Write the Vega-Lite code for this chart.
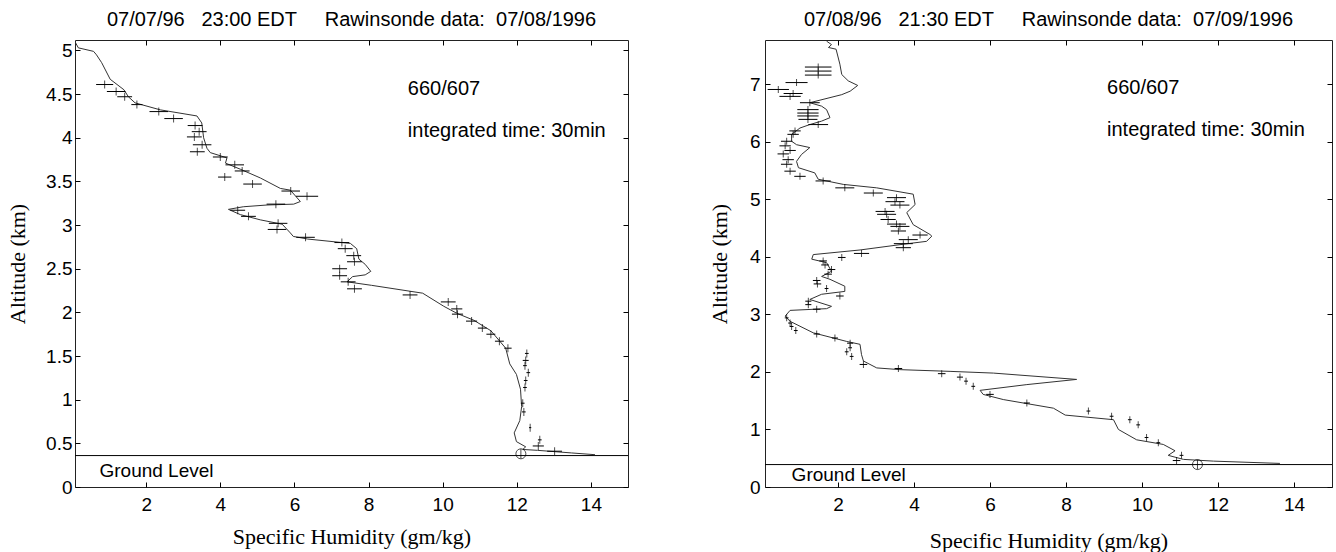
{
  "$schema": "https://vega.github.io/schema/vega-lite/v6.json",
  "background": "white",
  "padding": {"left": 6, "top": 9, "right": 0, "bottom": 0},
  "config": {
    "view": {"stroke": "#222", "strokeWidth": 1},
    "axis": {"grid": false},
    "title": {"font": "Liberation Sans", "fontSize": 20, "fontWeight": "normal", "color": "black"}
  },
  "datasets": {
    "sonde1": [
      {"q":0.08,"alt":5.10},{"q":0.17,"alt":5.03},{"q":0.58,"alt":4.99},{"q":0.66,"alt":4.95},{"q":0.80,"alt":4.86},
      {"q":1.03,"alt":4.67},{"q":1.40,"alt":4.55},{"q":1.52,"alt":4.47},{"q":1.70,"alt":4.40},{"q":2.38,"alt":4.32},
      {"q":3.37,"alt":4.25},{"q":3.50,"alt":4.17},{"q":3.55,"alt":4.00},{"q":3.64,"alt":3.88},{"q":3.73,"alt":3.83},
      {"q":4.18,"alt":3.77},{"q":4.14,"alt":3.71},{"q":4.54,"alt":3.64},{"q":5.08,"alt":3.54},{"q":5.62,"alt":3.42},
      {"q":5.89,"alt":3.40},{"q":6.16,"alt":3.27},{"q":5.98,"alt":3.24},{"q":5.26,"alt":3.23},{"q":4.62,"alt":3.21},
      {"q":4.22,"alt":3.18},{"q":4.54,"alt":3.12},{"q":5.08,"alt":3.06},{"q":5.67,"alt":3.01},{"q":5.89,"alt":2.91},
      {"q":5.97,"alt":2.87},{"q":6.36,"alt":2.84},{"q":7.51,"alt":2.79},{"q":7.68,"alt":2.73},{"q":7.74,"alt":2.61},
      {"q":7.91,"alt":2.55},{"q":8.06,"alt":2.47},{"q":7.91,"alt":2.43},{"q":7.57,"alt":2.41},{"q":7.42,"alt":2.35},
      {"q":8.08,"alt":2.31},{"q":9.46,"alt":2.22},{"q":10.03,"alt":2.07},{"q":10.38,"alt":1.99},{"q":10.84,"alt":1.91},
      {"q":11.30,"alt":1.79},{"q":11.70,"alt":1.59},{"q":11.81,"alt":1.41},{"q":11.99,"alt":1.29},{"q":12.10,"alt":1.12},
      {"q":12.13,"alt":0.92},{"q":12.08,"alt":0.76},{"q":11.93,"alt":0.62},{"q":11.99,"alt":0.52},{"q":12.24,"alt":0.46},
      {"q":12.16,"alt":0.43},{"q":12.56,"alt":0.42},{"q":13.48,"alt":0.39},{"q":14.11,"alt":0.37}
    ],
    "lidar1": [
      {"q":0.88,"alt":4.61,"e":0.23},{"q":1.19,"alt":4.53,"e":0.25},{"q":1.42,"alt":4.47,"e":0.2},{"q":1.75,"alt":4.38,"e":0.15},
      {"q":2.34,"alt":4.30,"e":0.25},{"q":2.74,"alt":4.22,"e":0.25},{"q":3.32,"alt":4.14,"e":0.2},{"q":3.43,"alt":4.07,"e":0.2},
      {"q":3.30,"alt":4.01,"e":0.2},{"q":3.51,"alt":3.92,"e":0.25},{"q":3.38,"alt":3.84,"e":0.2},{"q":4.00,"alt":3.78,"e":0.2},
      {"q":4.39,"alt":3.69,"e":0.25},{"q":4.59,"alt":3.62,"e":0.2},{"q":4.12,"alt":3.55,"e":0.18},{"q":4.87,"alt":3.47,"e":0.25},
      {"q":5.90,"alt":3.39,"e":0.25},{"q":6.34,"alt":3.33,"e":0.3},{"q":5.50,"alt":3.24,"e":0.25},{"q":4.47,"alt":3.17,"e":0.2},
      {"q":4.76,"alt":3.10,"e":0.2},{"q":5.56,"alt":3.02,"e":0.25},{"q":5.53,"alt":2.95,"e":0.25},{"q":6.30,"alt":2.86,"e":0.25},
      {"q":7.28,"alt":2.80,"e":0.2},{"q":7.37,"alt":2.73,"e":0.2},{"q":7.60,"alt":2.65,"e":0.2},{"q":7.62,"alt":2.58,"e":0.2},
      {"q":7.22,"alt":2.50,"e":0.2},{"q":7.22,"alt":2.42,"e":0.2},{"q":7.45,"alt":2.35,"e":0.2},{"q":7.62,"alt":2.27,"e":0.2},
      {"q":9.12,"alt":2.20,"e":0.2},{"q":10.15,"alt":2.12,"e":0.2},{"q":10.38,"alt":2.04,"e":0.15},{"q":10.40,"alt":1.98,"e":0.15},
      {"q":10.78,"alt":1.90,"e":0.15},{"q":11.07,"alt":1.82,"e":0.12},{"q":11.30,"alt":1.75,"e":0.12},{"q":11.53,"alt":1.67,"e":0.12},
      {"q":11.76,"alt":1.59,"e":0.1},{"q":12.27,"alt":1.53,"e":0.05},{"q":12.24,"alt":1.45,"e":0.08},{"q":12.22,"alt":1.39,"e":0.05},
      {"q":12.31,"alt":1.31,"e":0.05},{"q":12.24,"alt":1.22,"e":0.05},{"q":12.22,"alt":1.14,"e":0.05},{"q":12.16,"alt":0.96,"e":0.05},
      {"q":12.19,"alt":0.86,"e":0.05},{"q":12.36,"alt":0.68,"e":0.03},{"q":12.62,"alt":0.54,"e":0.05},{"q":12.58,"alt":0.47,"e":0.15},
      {"q":13.02,"alt":0.41,"e":0.2}
    ],
    "sonde2": [
      {"q":1.70,"alt":7.75},{"q":1.83,"alt":7.69},{"q":1.75,"alt":7.64},{"q":1.95,"alt":7.61},{"q":2.05,"alt":7.35},
      {"q":2.10,"alt":7.17},{"q":2.27,"alt":7.06},{"q":2.52,"alt":6.98},{"q":2.32,"alt":6.88},{"q":2.10,"alt":6.82},
      {"q":1.26,"alt":6.68},{"q":1.57,"alt":6.62},{"q":1.70,"alt":6.56},{"q":1.79,"alt":6.42},{"q":1.57,"alt":6.36},
      {"q":1.26,"alt":6.30},{"q":1.00,"alt":6.24},{"q":0.78,"alt":6.13},{"q":0.78,"alt":6.01},{"q":0.91,"alt":5.95},
      {"q":1.26,"alt":5.90},{"q":1.04,"alt":5.78},{"q":0.91,"alt":5.66},{"q":0.96,"alt":5.55},{"q":1.39,"alt":5.46},
      {"q":1.48,"alt":5.35},{"q":2.14,"alt":5.26},{"q":3.02,"alt":5.20},{"q":3.98,"alt":5.09},{"q":4.03,"alt":4.91},
      {"q":3.81,"alt":4.77},{"q":3.98,"alt":4.56},{"q":4.42,"alt":4.39},{"q":4.47,"alt":4.36},{"q":4.33,"alt":4.27},
      {"q":3.72,"alt":4.22},{"q":2.58,"alt":4.12},{"q":1.35,"alt":4.04},{"q":1.31,"alt":3.96},{"q":1.70,"alt":3.90},
      {"q":1.83,"alt":3.75},{"q":1.57,"alt":3.66},{"q":1.79,"alt":3.61},{"q":2.18,"alt":3.49},{"q":2.18,"alt":3.40},
      {"q":1.57,"alt":3.35},{"q":1.26,"alt":3.26},{"q":1.83,"alt":3.14},{"q":1.70,"alt":3.10},{"q":0.74,"alt":3.07},
      {"q":0.61,"alt":2.97},{"q":0.74,"alt":2.88},{"q":1.35,"alt":2.68},{"q":2.23,"alt":2.53},{"q":2.58,"alt":2.48},
      {"q":2.62,"alt":2.30},{"q":2.67,"alt":2.19},{"q":3.02,"alt":2.07},{"q":3.63,"alt":2.04},{"q":4.95,"alt":2.01},
      {"q":6.09,"alt":1.98},{"q":8.28,"alt":1.87},{"q":6.97,"alt":1.78},{"q":5.74,"alt":1.68},{"q":5.82,"alt":1.61},
      {"q":6.35,"alt":1.52},{"q":7.67,"alt":1.37},{"q":7.98,"alt":1.25},{"q":9.25,"alt":1.17},{"q":9.38,"alt":1.00},
      {"q":9.86,"alt":0.82},{"q":10.56,"alt":0.74},{"q":10.87,"alt":0.63},{"q":10.69,"alt":0.55},{"q":11.09,"alt":0.48},
      {"q":11.88,"alt":0.45},{"q":13.63,"alt":0.41}
    ],
    "lidar2": [
      {"q":1.48,"alt":7.30,"e":0.35},{"q":1.48,"alt":7.23,"e":0.35},{"q":1.48,"alt":7.16,"e":0.35},{"q":0.91,"alt":7.03,"e":0.29},
      {"q":0.43,"alt":6.91,"e":0.28},{"q":0.82,"alt":6.84,"e":0.25},{"q":0.74,"alt":6.79,"e":0.28},{"q":1.26,"alt":6.68,"e":0.26},
      {"q":1.21,"alt":6.56,"e":0.28},{"q":1.21,"alt":6.50,"e":0.28},{"q":1.21,"alt":6.45,"e":0.28},{"q":1.21,"alt":6.39,"e":0.25},
      {"q":1.48,"alt":6.30,"e":0.26},{"q":0.87,"alt":6.19,"e":0.15},{"q":0.82,"alt":6.13,"e":0.15},{"q":0.65,"alt":6.01,"e":0.15},
      {"q":0.61,"alt":5.93,"e":0.15},{"q":0.74,"alt":5.85,"e":0.15},{"q":0.56,"alt":5.79,"e":0.15},{"q":0.69,"alt":5.69,"e":0.15},
      {"q":0.65,"alt":5.61,"e":0.15},{"q":0.74,"alt":5.49,"e":0.15},{"q":1.00,"alt":5.40,"e":0.15},{"q":1.61,"alt":5.32,"e":0.2},
      {"q":2.18,"alt":5.20,"e":0.25},{"q":2.93,"alt":5.11,"e":0.25},{"q":3.54,"alt":5.03,"e":0.25},{"q":3.50,"alt":4.96,"e":0.25},
      {"q":3.63,"alt":4.90,"e":0.25},{"q":3.24,"alt":4.79,"e":0.25},{"q":3.28,"alt":4.74,"e":0.25},{"q":3.32,"alt":4.65,"e":0.2},
      {"q":3.54,"alt":4.57,"e":0.25},{"q":3.63,"alt":4.53,"e":0.25},{"q":3.59,"alt":4.45,"e":0.2},{"q":4.16,"alt":4.38,"e":0.2},
      {"q":3.85,"alt":4.30,"e":0.25},{"q":3.72,"alt":4.23,"e":0.25},{"q":3.72,"alt":4.16,"e":0.2},{"q":2.62,"alt":4.06,"e":0.2},
      {"q":2.10,"alt":3.99,"e":0.1},{"q":1.61,"alt":3.93,"e":0.1},{"q":1.66,"alt":3.86,"e":0.1},{"q":1.83,"alt":3.78,"e":0.1},
      {"q":1.74,"alt":3.70,"e":0.1},{"q":1.44,"alt":3.59,"e":0.1},{"q":1.46,"alt":3.53,"e":0.1},{"q":1.70,"alt":3.45,"e":0.05},
      {"q":2.05,"alt":3.32,"e":0.1},{"q":1.22,"alt":3.23,"e":0.08},{"q":1.22,"alt":3.17,"e":0.08},{"q":1.44,"alt":3.09,"e":0.1},
      {"q":0.65,"alt":2.94,"e":0.05},{"q":0.74,"alt":2.85,"e":0.05},{"q":0.78,"alt":2.79,"e":0.05},{"q":0.89,"alt":2.72,"e":0.05},
      {"q":1.44,"alt":2.66,"e":0.08},{"q":1.92,"alt":2.59,"e":0.08},{"q":2.32,"alt":2.50,"e":0.08},{"q":2.32,"alt":2.42,"e":0.05},
      {"q":2.23,"alt":2.35,"e":0.05},{"q":2.36,"alt":2.27,"e":0.05},{"q":2.67,"alt":2.13,"e":0.1},{"q":3.59,"alt":2.06,"e":0.1},
      {"q":4.73,"alt":1.97,"e":0.1},{"q":5.21,"alt":1.91,"e":0.08},{"q":5.37,"alt":1.84,"e":0.05},{"q":5.56,"alt":1.75,"e":0.05},
      {"q":6.00,"alt":1.61,"e":0.1},{"q":6.97,"alt":1.46,"e":0.08},{"q":8.59,"alt":1.32,"e":0.05},{"q":9.20,"alt":1.23,"e":0.05},
      {"q":9.68,"alt":1.17,"e":0.05},{"q":9.90,"alt":1.08,"e":0.05},{"q":10.12,"alt":0.86,"e":0.05},{"q":10.43,"alt":0.77,"e":0.05},
      {"q":11.04,"alt":0.55,"e":0.05},{"q":10.91,"alt":0.46,"e":0.1}
    ]
  },
  "hconcat": [
    {
      "width": 553,
      "height": 447,
      "title": {"text": "07/07/96\u00a0\u00a0\u00a023:00 EDT\u00a0\u00a0\u00a0\u00a0\u00a0Rawinsonde data:\u00a0\u00a007/08/1996", "baseline": "alphabetic", "offset": -6, "anchor": "middle", "frame": "group"},
      "layer": [
        {
          "data": {"values": [{}]},
          "mark": {"type": "rule", "color": "black", "strokeWidth": 1},
          "encoding": {"y": {"datum": 0.36, "type": "quantitative", "scale": {"domain": [0, 5.12], "nice": false, "zero": false}, "axis": null}}
        },
        {
          "data": {"name": "sonde1"},
          "mark": {"type": "line", "color": "#333", "strokeWidth": 1, "clip": true},
          "encoding": {
            "x": {"field": "q", "type": "quantitative", "scale": {"domain": [0.08, 15], "nice": false, "zero": false},
              "axis": {"orient": "bottom", "values": [2,4,6,8,10,12,14], "tickSize": -5, "tickColor": "black", "labelPadding": 13, "domain": false,
                "labelFont": "Liberation Sans", "labelFontSize": 19, "labelColor": "black",
                "title": "Specific Humidity (gm/kg)", "titleFont": "Liberation Serif", "titleFontSize": 22, "titleFontWeight": "normal", "titleColor": "black", "titlePadding": 12}},
            "y": {"field": "alt", "type": "quantitative", "scale": {"domain": [0, 5.12], "nice": false, "zero": false},
              "axis": {"orient": "left", "values": [0,0.5,1,1.5,2,2.5,3,3.5,4,4.5,5], "format": "~g", "tickSize": -5, "tickColor": "black", "labelPadding": 8, "domain": false,
                "labelFont": "Liberation Sans", "labelFontSize": 19, "labelColor": "black",
                "title": "Altitude (km)", "titleFont": "Liberation Serif", "titleFontSize": 22, "titleFontWeight": "normal", "titleColor": "black", "titlePadding": 16}},
            "order": {"value": null}
          }
        },
        {
          "data": {"name": "lidar1"},
          "mark": {"type": "errorbar", "color": "black", "thickness": 1},
          "encoding": {
            "x": {"field": "q", "type": "quantitative", "axis": null},
            "xError": {"field": "e"},
            "y": {"field": "alt", "type": "quantitative", "axis": null}
          }
        },
        {
          "data": {"name": "lidar1"},
          "mark": {"type": "tick", "orient": "vertical", "color": "black", "thickness": 1, "size": 8},
          "encoding": {
            "x": {"field": "q", "type": "quantitative", "axis": {"orient": "top", "values": [2,4,6,8,10,12,14], "labels": false, "domain": false, "tickSize": -5, "tickColor": "black", "title": null}},
            "y": {"field": "alt", "type": "quantitative", "axis": {"orient": "right", "values": [0,0.5,1,1.5,2,2.5,3,3.5,4,4.5,5], "labels": false, "domain": false, "tickSize": -5, "tickColor": "black", "title": null}}
          }
        },
        {
          "data": {"values": [{}]},
          "mark": {"type": "point", "shape": "M-1,0A1,1 0 1,1 1,0A1,1 0 1,1 -1,0M0,-1L0,1", "size": 100, "filled": false, "color": "black", "strokeWidth": 1},
          "encoding": {"x": {"datum": 12.11, "type": "quantitative", "axis": null}, "y": {"datum": 0.38, "type": "quantitative", "axis": null}}
        },
        {
          "data": {"values": [{}]},
          "mark": {"type": "text", "align": "left", "baseline": "alphabetic", "font": "Liberation Sans", "fontSize": 19, "color": "black"},
          "encoding": {"x": {"datum": 0.74, "type": "quantitative", "axis": null}, "y": {"datum": 0.12, "type": "quantitative", "axis": null}, "text": {"value": "Ground Level"}}
        },
        {
          "data": {"values": [{}]},
          "mark": {"type": "text", "align": "left", "baseline": "alphabetic", "font": "Liberation Sans", "fontSize": 20, "color": "black"},
          "encoding": {"x": {"datum": 9.06, "type": "quantitative", "axis": null}, "y": {"datum": 4.49, "type": "quantitative", "axis": null}, "text": {"value": "660/607"}}
        },
        {
          "data": {"values": [{}]},
          "mark": {"type": "text", "align": "left", "baseline": "alphabetic", "font": "Liberation Sans", "fontSize": 20, "color": "black"},
          "encoding": {"x": {"datum": 9.06, "type": "quantitative", "axis": null}, "y": {"datum": 4.01, "type": "quantitative", "axis": null}, "text": {"value": "integrated time: 30min"}}
        }
      ]
    },
    {
      "width": 567,
      "height": 447,
      "title": {"text": "07/08/96\u00a0\u00a0\u00a021:30 EDT\u00a0\u00a0\u00a0\u00a0\u00a0Rawinsonde data:\u00a0\u00a007/09/1996", "baseline": "alphabetic", "offset": -6, "anchor": "middle", "frame": "group"},
      "layer": [
        {
          "data": {"values": [{}]},
          "mark": {"type": "rule", "color": "black", "strokeWidth": 1},
          "encoding": {"y": {"datum": 0.39, "type": "quantitative", "scale": {"domain": [0, 7.77], "nice": false, "zero": false}, "axis": null}}
        },
        {
          "data": {"name": "sonde2"},
          "mark": {"type": "line", "color": "#333", "strokeWidth": 1, "clip": true},
          "encoding": {
            "x": {"field": "q", "type": "quantitative", "scale": {"domain": [0.08, 15], "nice": false, "zero": false},
              "axis": {"orient": "bottom", "values": [2,4,6,8,10,12,14], "tickSize": -5, "tickColor": "black", "labelPadding": 13, "domain": false,
                "labelFont": "Liberation Sans", "labelFontSize": 19, "labelColor": "black",
                "title": "Specific Humidity (gm/kg)", "titleFont": "Liberation Serif", "titleFontSize": 22, "titleFontWeight": "normal", "titleColor": "black", "titlePadding": 16}},
            "y": {"field": "alt", "type": "quantitative", "scale": {"domain": [0, 7.77], "nice": false, "zero": false},
              "axis": {"orient": "left", "values": [0,1,2,3,4,5,6,7], "format": "d", "tickSize": -5, "tickColor": "black", "labelPadding": 10, "domain": false,
                "labelFont": "Liberation Sans", "labelFontSize": 19, "labelColor": "black",
                "title": "Altitude (km)", "titleFont": "Liberation Serif", "titleFontSize": 22, "titleFontWeight": "normal", "titleColor": "black", "titlePadding": 18}},
            "order": {"value": null}
          }
        },
        {
          "data": {"name": "lidar2"},
          "mark": {"type": "errorbar", "color": "black", "thickness": 1},
          "encoding": {
            "x": {"field": "q", "type": "quantitative", "axis": null},
            "xError": {"field": "e"},
            "y": {"field": "alt", "type": "quantitative", "axis": null}
          }
        },
        {
          "data": {"name": "lidar2"},
          "mark": {"type": "tick", "orient": "vertical", "color": "black", "thickness": 1, "size": 7},
          "encoding": {
            "x": {"field": "q", "type": "quantitative", "axis": {"orient": "top", "values": [2,4,6,8,10,12,14], "labels": false, "domain": false, "tickSize": -5, "tickColor": "black", "title": null}},
            "y": {"field": "alt", "type": "quantitative", "axis": {"orient": "right", "values": [0,1,2,3,4,5,6,7], "labels": false, "domain": false, "tickSize": -5, "tickColor": "black", "title": null}}
          }
        },
        {
          "data": {"values": [{}]},
          "mark": {"type": "point", "shape": "M-1,0A1,1 0 1,1 1,0A1,1 0 1,1 -1,0M0,-1L0,1", "size": 100, "filled": false, "color": "black", "strokeWidth": 1},
          "encoding": {"x": {"datum": 11.46, "type": "quantitative", "axis": null}, "y": {"datum": 0.39, "type": "quantitative", "axis": null}}
        },
        {
          "data": {"values": [{}]},
          "mark": {"type": "text", "align": "left", "baseline": "alphabetic", "font": "Liberation Sans", "fontSize": 19, "color": "black"},
          "encoding": {"x": {"datum": 0.78, "type": "quantitative", "axis": null}, "y": {"datum": 0.10, "type": "quantitative", "axis": null}, "text": {"value": "Ground Level"}}
        },
        {
          "data": {"values": [{}]},
          "mark": {"type": "text", "align": "left", "baseline": "alphabetic", "font": "Liberation Sans", "fontSize": 20, "color": "black"},
          "encoding": {"x": {"datum": 9.08, "type": "quantitative", "axis": null}, "y": {"datum": 6.84, "type": "quantitative", "axis": null}, "text": {"value": "660/607"}}
        },
        {
          "data": {"values": [{}]},
          "mark": {"type": "text", "align": "left", "baseline": "alphabetic", "font": "Liberation Sans", "fontSize": 20, "color": "black"},
          "encoding": {"x": {"datum": 9.08, "type": "quantitative", "axis": null}, "y": {"datum": 6.10, "type": "quantitative", "axis": null}, "text": {"value": "integrated time: 30min"}}
        }
      ]
    }
  ],
  "spacing": 137,
  "bounds": "flush"
}
